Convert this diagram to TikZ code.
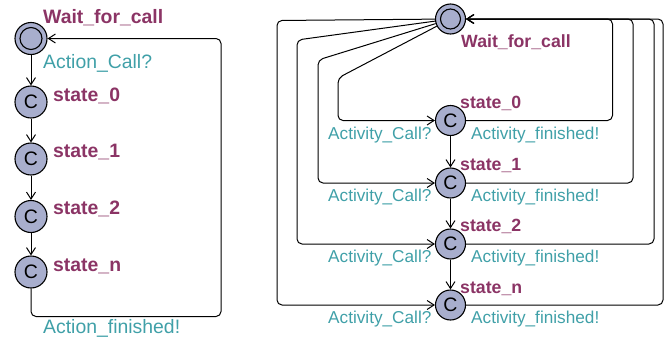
\documentclass[tikz,border=0pt]{standalone}
\usepackage{fontspec}
\setmainfont{Liberation Sans}
\usetikzlibrary{arrows.meta}
\definecolor{locname}{HTML}{8B3465}
\definecolor{synclbl}{HTML}{40A0A8}
\definecolor{locfill}{HTML}{A8AECD}
\tikzset{
  loc/.style={circle, draw, line width=1.1pt, fill=locfill, inner sep=0pt,
    font=\fontsize{19.5}{19.5}\selectfont},
  locL/.style={loc, minimum size=32pt},
  locR/.style={loc, minimum size=30pt},
  edge/.style={line width=1pt, rounded corners=5pt,
    -{Straight Barb[length=7pt,width=9pt,line width=1pt]}},
  nameL/.style={anchor=base west, inner sep=0pt, text=locname,
    font=\fontsize{19.4}{19.4}\selectfont\bfseries},
  syncL/.style={anchor=base west, inner sep=0pt, text=synclbl,
    font=\fontsize{19.4}{19.4}\selectfont},
  nameR/.style={anchor=base west, inner sep=0pt, text=locname,
    font=\fontsize{17.7}{17.7}\selectfont\bfseries},
  syncR/.style={anchor=base west, inner sep=0pt, text=synclbl,
    font=\fontsize{17.2}{17.2}\selectfont},
}
\begin{document}
\begin{tikzpicture}[x=1pt,y=-1pt]
\useasboundingbox (0,0) rectangle (667,343);

% ---- single-action automaton ----
\node[locL] (wl) at (31,38.5) {};
\draw[line width=1.1pt] (wl) circle (11);
\node[locL] (l0) at (31,102) {C};
\node[locL] (l1) at (31,159) {C};
\node[locL] (l2) at (31,216.5) {C};
\node[locL] (ln) at (31,272) {C};

\node[nameL] (tw) at (43,23.5) {Wait\_for\_call};
\node[syncL] (tc) at (43,68) {Action\_Call?};
\node[nameL] (t0) at (53,101) {state\_0};
\node[nameL] (t1) at (53,157) {state\_1};
\node[nameL] (t2) at (53,214.5) {state\_2};
\node[nameL] (tn) at (53,271) {state\_n};
\node[syncL] (tf) at (43,333) {Action\_finished!};

\draw[edge] (wl) -- (l0);
\draw[edge] (l0) -- (l1);
\draw[edge] (l1) -- (l2);
\draw[edge] (l2) -- (ln);
\draw[edge] (ln) -- (31,316.5) -| (221,38.5) -- (wl);

% ---- multi-activity automaton ----
\node[locR] (wr) at (450.5,19) {};
\draw[line width=1.1pt] (wr) circle (10);
\node[locR] (r0) at (450.5,120.5) {C};
\node[locR] (r1) at (450.5,183) {C};
\node[locR] (r2) at (450.5,244) {C};
\node[locR] (rn) at (450.5,305) {C};

\node[nameR] at (461,47.5) {Wait\_for\_call};
\node[nameR] at (460,108) {state\_0};
\node[nameR] at (460,170.5) {state\_1};
\node[nameR] at (460,231.5) {state\_2};
\node[nameR] at (460,293) {state\_n};

\foreach \n/\y in {r0/139, r1/201, r2/262, rn/323}{
  \node[syncR] at (328,\y) {Activity\_Call?};
  \node[syncR] at (471,\y) {Activity\_finished!};
}

\draw[edge] (r0) -- (r1);
\draw[edge] (r1) -- (r2);
\draw[edge] (r2) -- (rn);

% calls: from the waiting location out to the left and into each state
\draw[edge] (wr) -- (338,78) |- (r0);
\draw[edge] (wr) -- (318,60) |- (r1);
\draw[edge] (wr) -- (297,40) |- (r2);
\draw[edge] (wr) -- (277,20.5) |- (rn);

% completions: from each state out to the right and back up
\draw[edge] (r0) -| (612.5,19) -- (wr);
\draw[edge] (r1) -| (633,19) -- (wr);
\draw[edge] (r2) -| (654,19) -- (wr);
\draw[edge] (rn) -| (663,19) -- (wr);
\end{tikzpicture}
\end{document}
